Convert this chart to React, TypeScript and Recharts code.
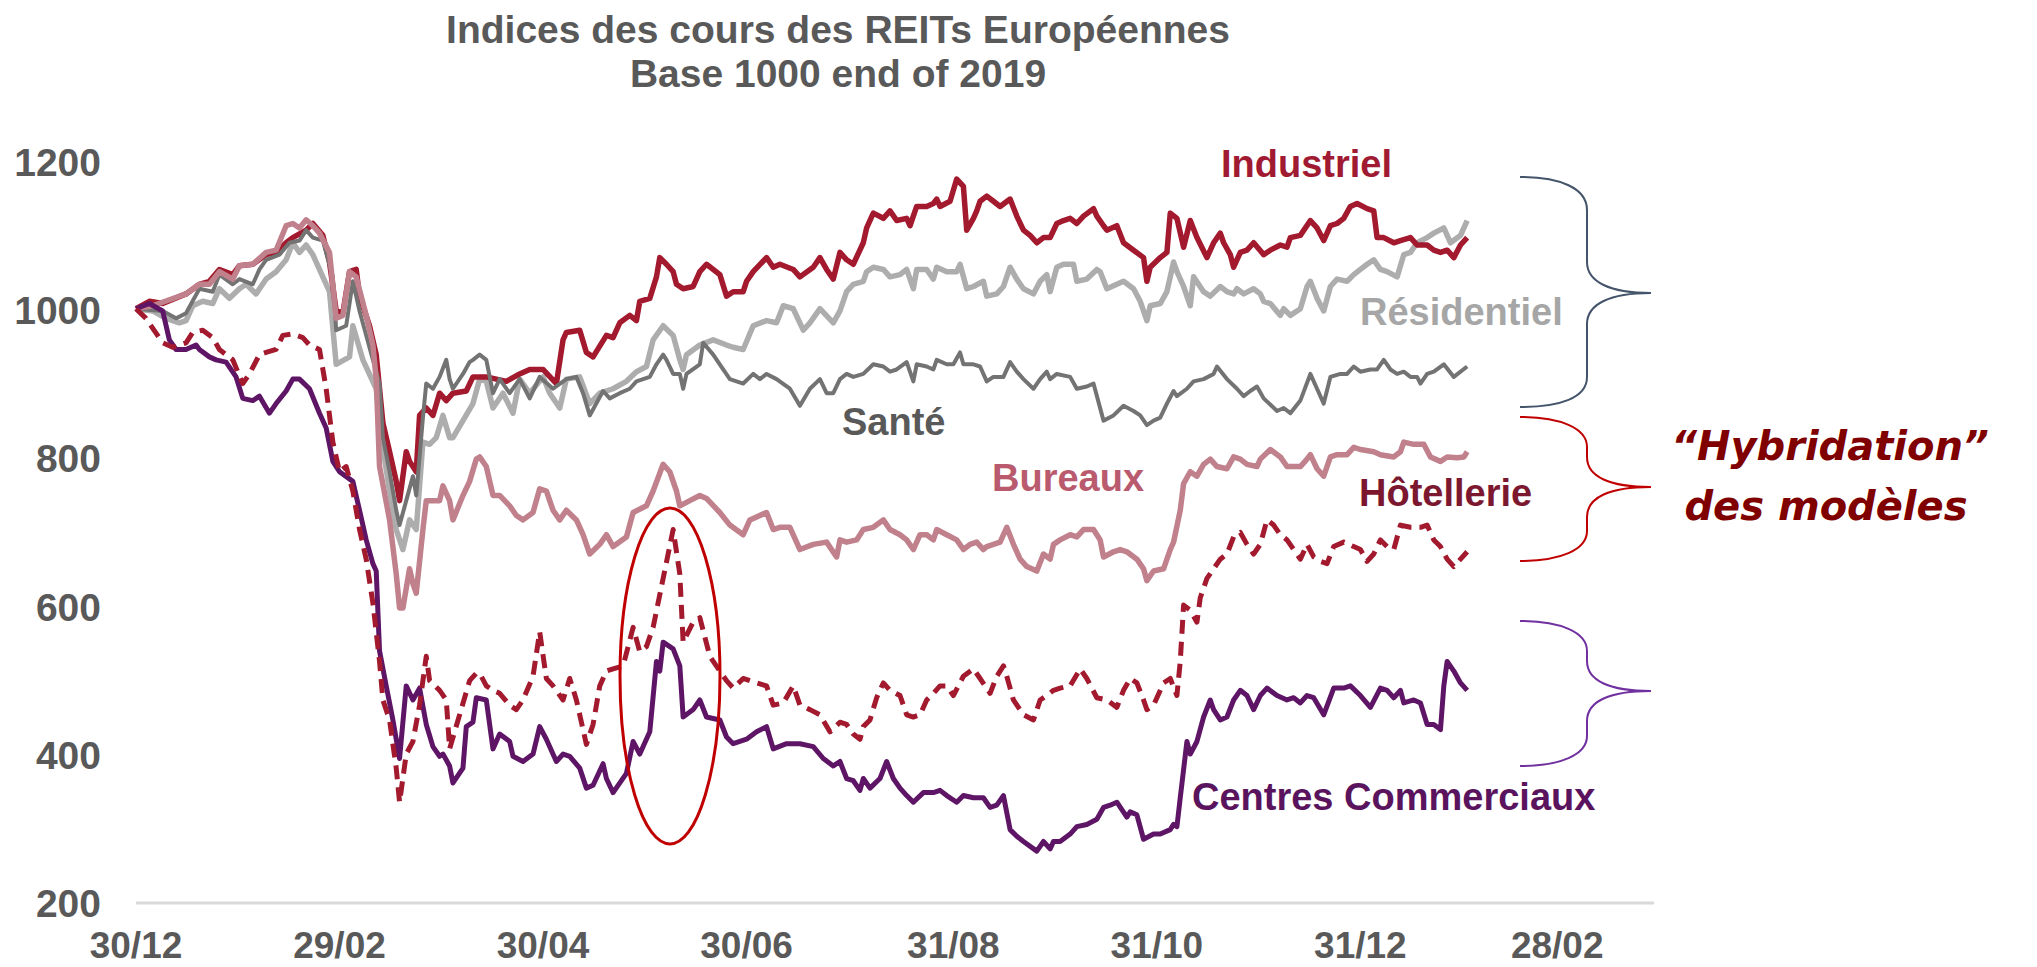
import React from "react";
import { LineChart, Line, XAxis, YAxis } from "recharts";

// x = days since 30/12/2019
const xTicks = [0, 61, 122, 183, 245, 306, 367, 426];
const xTickLabels = ["30/12", "29/02", "30/04", "30/06", "31/08", "31/10", "31/12", "28/02"];
const yTicks = [200, 400, 600, 800, 1000, 1200];

const industriel: [number, number][] = [
  [0, 1002], [4, 1012], [8, 1009], [15, 1022], [19, 1035], [22, 1039], [25, 1055], [29, 1048], [31, 1060], [35, 1062],
  [39, 1075], [42, 1078], [45, 1091], [47, 1098], [51, 1108], [53, 1117], [56, 1101], [58, 1065], [60, 999], [62, 996],
  [64, 1052], [66, 1055], [67, 1019], [70, 979], [72, 940], [74, 848], [76, 809], [78, 769], [79, 743], [81, 809],
  [82, 796], [84, 782], [85, 858], [87, 868], [89, 858], [91, 888], [93, 878], [95, 888], [99, 891], [101, 910],
  [105, 910], [108, 907], [111, 904], [115, 914], [118, 920], [122, 920], [126, 901], [128, 960], [129, 970], [133, 973],
  [135, 943], [137, 937], [141, 966], [143, 963], [145, 983], [148, 993], [150, 986], [151, 1012], [154, 1016], [156, 1045],
  [157, 1071], [159, 1062], [161, 1052], [162, 1035], [164, 1029], [167, 1032], [169, 1052], [171, 1062], [175, 1048], [177, 1019],
  [179, 1025], [182, 1025], [183, 1039], [185, 1052], [189, 1071], [191, 1058], [193, 1062], [197, 1055], [199, 1045], [203, 1058],
  [205, 1071], [207, 1055], [209, 1042], [211, 1078], [213, 1068], [215, 1062], [218, 1091], [219, 1111], [221, 1131], [224, 1124],
  [226, 1134], [228, 1121], [231, 1124], [232, 1114], [234, 1140], [237, 1140], [239, 1144], [240, 1150], [241, 1140], [244, 1147],
  [246, 1177], [248, 1167], [249, 1108], [251, 1124], [252, 1134], [253, 1147], [255, 1154], [257, 1147], [259, 1140], [262, 1150],
  [264, 1127], [266, 1108], [268, 1101], [270, 1091], [272, 1098], [274, 1098], [276, 1117], [278, 1121], [280, 1124], [282, 1117],
  [284, 1127], [287, 1137], [288, 1127], [290, 1114], [291, 1108], [294, 1114], [296, 1091], [299, 1081], [302, 1071], [303, 1039],
  [304, 1058], [307, 1071], [309, 1078], [310, 1131], [312, 1124], [314, 1085], [316, 1121], [318, 1098], [321, 1071], [323, 1091],
  [325, 1104], [326, 1091], [328, 1075], [329, 1058], [331, 1078], [333, 1081], [335, 1091], [338, 1075], [340, 1081], [343, 1088],
  [345, 1085], [346, 1098], [349, 1101], [352, 1121], [354, 1111], [356, 1094], [358, 1114], [360, 1117], [362, 1124], [364, 1140],
  [366, 1144], [369, 1137], [371, 1134], [372, 1098], [374, 1098], [377, 1091], [379, 1094], [382, 1098], [384, 1088], [387, 1088],
  [389, 1081], [391, 1078], [393, 1081], [395, 1071], [397, 1088], [399, 1098],
];

const sante: [number, number][] = [
  [0, 1002], [8, 999], [12, 989], [15, 996], [19, 1029], [23, 1025], [25, 1048], [29, 1035], [31, 1042], [35, 1035],
  [37, 1055], [39, 1068], [43, 1075], [46, 1091], [49, 1094], [51, 1108], [53, 1098], [56, 1094], [59, 1045], [60, 973],
  [63, 979], [65, 1039], [67, 999], [71, 933], [73, 901], [74, 828], [76, 782], [78, 730], [79, 710], [81, 743],
  [83, 776], [84, 750], [86, 855], [87, 901], [89, 894], [91, 910], [93, 933], [94, 907], [95, 894], [98, 914],
  [100, 930], [101, 933], [103, 940], [105, 933], [107, 888], [109, 907], [112, 888], [115, 907], [118, 881], [121, 910],
  [125, 894], [129, 907], [132, 910], [134, 888], [136, 858], [140, 891], [142, 881], [145, 888], [148, 894], [150, 904],
  [154, 910], [156, 927], [158, 940], [159, 933], [161, 914], [163, 914], [164, 894], [165, 914], [169, 927], [170, 956],
  [173, 940], [176, 920], [178, 907], [182, 901], [185, 914], [187, 907], [189, 914], [192, 907], [196, 894], [199, 871],
  [202, 894], [205, 907], [207, 888], [209, 888], [211, 907], [213, 914], [215, 910], [218, 914], [221, 927], [224, 924],
  [226, 917], [228, 920], [231, 930], [233, 904], [234, 927], [237, 924], [239, 920], [240, 933], [243, 927], [245, 927],
  [247, 943], [248, 927], [251, 927], [253, 924], [255, 904], [257, 910], [260, 910], [262, 930], [264, 917], [266, 907],
  [269, 894], [271, 907], [273, 917], [274, 907], [276, 914], [280, 910], [282, 894], [285, 897], [287, 901], [290, 851],
  [293, 858], [296, 871], [299, 864], [301, 858], [303, 845], [305, 851], [307, 855], [309, 874], [311, 891], [312, 884],
  [315, 894], [317, 904], [320, 907], [323, 914], [324, 924], [327, 907], [330, 894], [332, 884], [334, 891], [336, 897],
  [338, 881], [342, 864], [344, 868], [346, 861], [349, 878], [352, 914], [354, 894], [356, 874], [358, 910], [361, 914],
  [363, 914], [365, 924], [367, 917], [370, 920], [372, 920], [374, 933], [376, 920], [378, 914], [380, 917], [382, 910],
  [384, 910], [385, 901], [387, 914], [389, 917], [392, 927], [395, 910], [399, 924],
];

const residentiel: [number, number][] = [
  [0, 1002], [5, 999], [9, 989], [13, 983], [15, 986], [17, 1006], [20, 1012], [23, 1009], [25, 1029], [28, 1016],
  [31, 1029], [33, 1035], [36, 1022], [39, 1042], [42, 1052], [45, 1068], [47, 1091], [49, 1078], [51, 1088], [53, 1075],
  [56, 1045], [58, 1025], [60, 927], [64, 937], [65, 979], [68, 933], [72, 894], [74, 815], [76, 756], [78, 704],
  [80, 677], [82, 717], [84, 704], [86, 822], [88, 819], [90, 828], [92, 858], [94, 828], [95, 828], [98, 851],
  [101, 874], [103, 907], [105, 904], [107, 868], [110, 888], [113, 861], [115, 907], [118, 888], [122, 910], [124, 888],
  [127, 868], [129, 907], [133, 910], [136, 874], [139, 888], [143, 894], [147, 904], [150, 917], [153, 924], [155, 960],
  [158, 979], [161, 966], [163, 933], [164, 920], [165, 940], [169, 953], [173, 960], [177, 953], [179, 950], [182, 947],
  [185, 979], [189, 986], [192, 983], [194, 1006], [197, 1002], [200, 973], [202, 983], [205, 1002], [209, 983], [211, 999],
  [213, 1025], [215, 1035], [218, 1039], [219, 1052], [221, 1058], [224, 1055], [226, 1045], [229, 1048], [231, 1055], [233, 1029],
  [234, 1055], [237, 1055], [239, 1042], [240, 1058], [243, 1052], [246, 1052], [247, 1062], [249, 1029], [251, 1032], [254, 1039],
  [255, 1019], [258, 1022], [260, 1032], [262, 1058], [264, 1042], [266, 1029], [269, 1022], [271, 1039], [273, 1048], [274, 1025],
  [276, 1058], [278, 1062], [281, 1062], [282, 1039], [285, 1042], [288, 1055], [289, 1052], [291, 1029], [294, 1035], [296, 1039],
  [299, 1029], [301, 1012], [303, 986], [304, 1006], [307, 1009], [309, 1025], [311, 1065], [312, 1052], [314, 1032], [316, 1006],
  [317, 1045], [320, 1025], [322, 1019], [325, 1032], [327, 1025], [329, 1022], [330, 1029], [332, 1022], [335, 1029], [337, 1022],
  [338, 1012], [340, 1009], [343, 993], [344, 1002], [346, 993], [349, 1002], [351, 1032], [352, 1039], [354, 1016], [356, 999],
  [358, 1032], [360, 1042], [363, 1039], [365, 1048], [367, 1055], [369, 1062], [371, 1068], [373, 1055], [375, 1052], [378, 1045],
  [380, 1075], [382, 1078], [384, 1091], [387, 1098], [389, 1104], [392, 1111], [394, 1091], [397, 1101], [399, 1121],
];

const bureaux: [number, number][] = [
  [0, 1002], [5, 1006], [15, 1022], [19, 1035], [22, 1035], [25, 1052], [29, 1042], [31, 1060], [35, 1062], [39, 1078],
  [42, 1081], [45, 1114], [47, 1117], [49, 1111], [51, 1122], [53, 1114], [55, 1104], [58, 1078], [60, 989], [62, 993],
  [64, 1052], [66, 1045], [69, 993], [71, 953], [72, 907], [73, 789], [76, 717], [78, 644], [79, 598], [80, 598],
  [82, 651], [83, 631], [84, 618], [86, 704], [87, 743], [89, 743], [91, 743], [92, 763], [94, 743], [95, 717],
  [98, 750], [100, 769], [102, 799], [103, 802], [105, 789], [107, 750], [109, 750], [112, 736], [114, 723], [116, 717],
  [119, 727], [121, 759], [123, 756], [125, 730], [127, 717], [129, 730], [132, 717], [134, 697], [136, 671], [139, 684],
  [141, 697], [143, 681], [147, 694], [149, 727], [153, 736], [155, 756], [158, 792], [160, 782], [162, 756], [163, 736],
  [166, 743], [169, 750], [171, 746], [175, 727], [178, 710], [182, 697], [184, 717], [189, 727], [191, 704], [193, 707],
  [196, 707], [199, 677], [203, 684], [207, 687], [210, 667], [211, 690], [213, 687], [216, 690], [218, 704], [221, 707],
  [224, 717], [226, 704], [229, 697], [231, 690], [233, 677], [235, 697], [237, 697], [239, 690], [240, 704], [243, 697],
  [246, 690], [248, 677], [250, 684], [252, 687], [254, 677], [255, 681], [259, 687], [261, 707], [263, 684], [265, 664],
  [267, 654], [270, 648], [272, 671], [274, 664], [275, 684], [277, 690], [280, 697], [282, 694], [284, 704], [287, 704],
  [289, 690], [290, 667], [293, 674], [295, 677], [297, 674], [300, 664], [302, 651], [303, 635], [305, 648], [308, 651],
  [310, 677], [311, 687], [313, 730], [314, 766], [316, 782], [318, 776], [320, 792], [322, 799], [324, 789], [327, 786],
  [329, 802], [331, 799], [333, 792], [336, 789], [337, 799], [340, 812], [343, 802], [345, 789], [349, 789], [351, 799],
  [352, 805], [354, 786], [356, 776], [358, 802], [360, 805], [363, 805], [365, 815], [367, 812], [371, 809], [373, 805],
  [377, 802], [379, 809], [380, 822], [383, 819], [386, 819], [388, 802], [391, 796], [393, 802], [396, 801], [398, 802],
  [399, 809],
];

const hotellerie: [number, number][] = [
  [0, 1002], [3, 989], [8, 956], [11, 950], [15, 956], [17, 970], [20, 973], [23, 963], [25, 947], [29, 933],
  [32, 901], [34, 914], [37, 940], [39, 943], [42, 947], [44, 966], [47, 968], [50, 963], [52, 953], [55, 947],
  [57, 894], [59, 822], [61, 782], [63, 789], [65, 756], [67, 704], [69, 664], [71, 605], [73, 526], [74, 474],
  [76, 447], [78, 382], [79, 336], [81, 401], [83, 418], [85, 467], [87, 533], [88, 500], [91, 487], [93, 474],
  [94, 408], [97, 454], [100, 500], [102, 510], [103, 510], [105, 493], [107, 487], [109, 483], [112, 467], [114, 461],
  [116, 474], [119, 506], [121, 566], [123, 503], [125, 493], [128, 474], [130, 503], [132, 474], [135, 414], [137, 441],
  [139, 493], [141, 513], [143, 516], [146, 520], [149, 572], [151, 539], [153, 546], [155, 572], [158, 638], [161, 704],
  [163, 644], [164, 552], [167, 579], [169, 585], [172, 533], [175, 513], [177, 500], [179, 490], [182, 503], [186, 497],
  [189, 493], [191, 467], [194, 470], [197, 493], [199, 467], [202, 461], [205, 454], [208, 431], [211, 444], [213, 441],
  [215, 428], [217, 421], [218, 438], [220, 447], [222, 477], [224, 497], [226, 487], [229, 480], [231, 454], [233, 451],
  [235, 454], [237, 474], [239, 483], [241, 493], [243, 493], [245, 480], [248, 506], [251, 516], [253, 503], [256, 483],
  [258, 506], [260, 520], [261, 506], [263, 474], [266, 454], [269, 447], [271, 474], [273, 480], [275, 487], [277, 490],
  [280, 493], [283, 516], [285, 503], [288, 477], [291, 474], [294, 464], [296, 487], [298, 503], [300, 497], [302, 474],
  [303, 461], [305, 467], [308, 497], [310, 503], [312, 480], [313, 526], [314, 602], [316, 595], [318, 579], [319, 612],
  [321, 638], [323, 651], [325, 664], [327, 671], [329, 694], [331, 700], [333, 684], [335, 671], [337, 684], [339, 717],
  [341, 710], [343, 697], [345, 690], [347, 677], [349, 664], [351, 684], [353, 667], [355, 661], [357, 658], [359, 681],
  [362, 687], [365, 681], [367, 677], [369, 661], [371, 671], [373, 690], [375, 681], [377, 677], [379, 710], [382, 707],
  [385, 707], [387, 710], [389, 690], [391, 681], [393, 664], [395, 654], [397, 664], [399, 674],
];

const centres: [number, number][] = [
  [0, 1002], [4, 1009], [8, 999], [10, 960], [12, 947], [15, 947], [18, 953], [19, 947], [22, 937], [24, 933],
  [27, 930], [30, 910], [32, 881], [35, 878], [37, 884], [40, 861], [42, 874], [45, 891], [47, 907], [49, 907],
  [52, 894], [55, 861], [57, 841], [59, 796], [61, 782], [65, 769], [67, 730], [69, 690], [71, 658], [72, 648],
  [73, 540], [75, 493], [77, 447], [79, 395], [81, 493], [83, 474], [85, 490], [87, 441], [89, 411], [91, 398],
  [92, 401], [94, 385], [95, 362], [98, 382], [99, 438], [101, 444], [102, 477], [105, 474], [107, 408], [109, 428],
  [112, 418], [113, 398], [116, 391], [119, 401], [121, 438], [123, 421], [126, 391], [128, 401], [130, 398], [133, 382],
  [135, 355], [137, 359], [140, 388], [141, 368], [143, 349], [147, 375], [149, 418], [151, 401], [154, 431], [156, 526],
  [157, 513], [158, 552], [161, 543], [163, 520], [164, 451], [167, 461], [169, 474], [171, 451], [175, 447], [177, 424],
  [179, 415], [183, 421], [186, 431], [189, 438], [191, 408], [195, 415], [199, 415], [203, 411], [206, 395], [209, 385],
  [211, 391], [213, 368], [215, 365], [217, 352], [218, 368], [220, 355], [223, 368], [225, 391], [227, 368], [229, 355],
  [231, 345], [233, 336], [236, 349], [239, 349], [241, 352], [243, 345], [246, 336], [248, 345], [251, 342], [254, 342],
  [256, 329], [258, 332], [260, 345], [262, 299], [264, 290], [266, 283], [270, 270], [272, 283], [274, 273], [275, 283],
  [277, 283], [280, 293], [282, 303], [285, 306], [288, 313], [290, 329], [292, 332], [294, 336], [297, 316], [298, 323],
  [300, 319], [302, 286], [305, 293], [307, 293], [310, 299], [311, 306], [312, 303], [313, 342], [315, 418], [316, 401],
  [318, 418], [320, 451], [322, 474], [323, 461], [325, 447], [327, 451], [329, 474], [331, 487], [333, 480], [335, 461],
  [337, 480], [339, 490], [342, 480], [345, 474], [347, 477], [349, 470], [351, 480], [353, 477], [356, 454], [359, 490],
  [362, 490], [364, 493], [367, 480], [370, 464], [373, 490], [375, 487], [377, 477], [379, 487], [380, 470], [383, 474],
  [385, 470], [387, 441], [389, 441], [391, 434], [392, 493], [393, 526], [395, 513], [397, 497], [399, 487],
];

const series = [
  { key: "residentiel", points: residentiel, color: "#ADADAD", width: 5.5, dash: undefined },
  { key: "industriel", points: industriel, color: "#A3192D", width: 5.5, dash: undefined },
  { key: "sante", points: sante, color: "#737373", width: 4, dash: undefined },
  { key: "bureaux", points: bureaux, color: "#C0818C", width: 5.5, dash: undefined },
  { key: "centres", points: centres, color: "#5E1566", width: 5, dash: undefined },
  { key: "hotellerie", points: hotellerie, color: "#A3192D", width: 5, dash: "14 8" },
];

const days = Array.from(new Set(series.flatMap((s) => s.points.map((p) => p[0])))).sort((a, b) => a - b);
const rows = days.map((d) => {
  const row: Record<string, number> = { d };
  for (const s of series) {
    const p = s.points.find((q) => q[0] === d);
    if (p) row[s.key] = p[1];
  }
  return row;
});

const FONT = "'Liberation Sans', Arial, Helvetica, sans-serif";
const GREY = "#595959";

const XTick = (props: any) => {
  const i = xTicks.indexOf(props.payload.value);
  return (
    <text x={props.x} y={props.y + 55} textAnchor="middle" fill={GREY} fontFamily={FONT} fontWeight="bold" fontSize={37}>
      {xTickLabels[i]}
    </text>
  );
};

const YTick = (props: any) => (
  <text x={101} y={props.y + 14} textAnchor="end" fill={GREY} fontFamily={FONT} fontWeight="bold" fontSize={39}>
    {props.payload.value}
  </text>
);

const labelStyle = { fontFamily: FONT, fontWeight: "bold" as const, fontSize: 38 };
const HYB_FONT = "'DejaVu Sans', Verdana, sans-serif";

export default function App() {
  return (
    <div style={{ position: "absolute", left: 0, top: 0, width: 2037, height: 967, background: "#fff" }}>
      <LineChart width={2037} height={967} data={rows} margin={{ top: 162, right: 383, bottom: 0, left: 0 }}>
        <XAxis
          dataKey="d"
          type="number"
          domain={[0, 455]}
          ticks={xTicks}
          tick={XTick}
          tickLine={false}
          tickSize={0}
          tickMargin={0}
          height={64}
          axisLine={{ stroke: "#D9D9D9", strokeWidth: 3 }}
        />
        <YAxis
          type="number"
          domain={[200, 1200]}
          ticks={yTicks}
          tick={YTick}
          width={136}
          axisLine={false}
          tickLine={false}
          tickSize={0}
          tickMargin={0}
        />
        {series.map((s) => (
          <Line
            key={s.key}
            dataKey={s.key}
            stroke={s.color}
            strokeWidth={s.width}
            strokeDasharray={s.dash}
            strokeLinejoin="round"
            dot={false}
            activeDot={false}
            connectNulls
            isAnimationActive={false}
          />
        ))}
      </LineChart>
      <svg width={2037} height={967} style={{ position: "absolute", left: 0, top: 0, pointerEvents: "none" }}>
        <text x={838} y={43} textAnchor="middle" fill={GREY} fontFamily={FONT} fontWeight="bold" fontSize={39}>
          Indices des cours des REITs Européennes
        </text>
        <text x={838} y={87} textAnchor="middle" fill={GREY} fontFamily={FONT} fontWeight="bold" fontSize={39}>
          Base 1000 end of 2019
        </text>

        <text x={1221} y={177} fill="#A01A32" {...labelStyle}>Industriel</text>
        <text x={1360} y={325} fill="#A6A6A6" {...labelStyle}>Résidentiel</text>
        <text x={842} y={435} fill={GREY} {...labelStyle}>Santé</text>
        <text x={992} y={491} fill="#B95A6E" {...labelStyle}>Bureaux</text>
        <text x={1359} y={506} fill="#7B1830" {...labelStyle}>Hôtellerie</text>
        <text x={1192} y={810} fill="#5A145E" {...labelStyle}>Centres Commerciaux</text>

        <text x={1830} y={460} textAnchor="middle" fill="#800000" fontFamily={HYB_FONT} fontWeight="bold" fontStyle="italic" fontSize={40}>
          “Hybridation”
        </text>
        <text x={1826} y={520} textAnchor="middle" fill="#800000" fontFamily={HYB_FONT} fontWeight="bold" fontStyle="italic" fontSize={40}>
          des modèles
        </text>

        <path
          d="M1520,177 C1560,177 1587,188 1587,210 L1587,262 C1587,282 1610,293 1651,293 C1610,293 1587,304 1587,324 L1587,377 C1587,398 1560,407 1520,407"
          fill="none" stroke="#44546A" strokeWidth={2}
        />
        <path
          d="M1520,417 C1560,417 1587,428 1587,447 L1587,457 C1587,477 1610,487 1651,487 C1610,487 1587,497 1587,517 L1587,531 C1587,550 1560,561 1520,561"
          fill="none" stroke="#C00000" strokeWidth={2}
        />
        <path
          d="M1520,621 C1560,621 1587,632 1587,651 L1587,661 C1587,681 1610,691 1651,691 C1610,691 1587,701 1587,721 L1587,736 C1587,755 1560,766 1520,766"
          fill="none" stroke="#7030A0" strokeWidth={2}
        />

        <ellipse cx={670} cy={676} rx={50} ry={168} fill="none" stroke="#C00000" strokeWidth={3} />
      </svg>
    </div>
  );
}
